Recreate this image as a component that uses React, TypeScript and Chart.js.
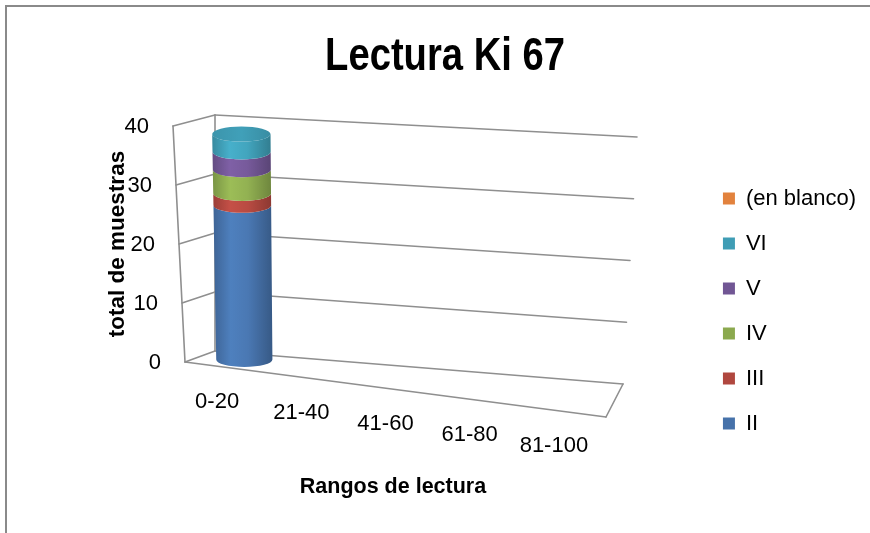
import { useEffect, useRef } from "react";
import { Chart, registerables } from "chart.js";

Chart.register(...registerables);

// ---- data ----
const CATEGORIES = ["0-20", "21-40", "41-60", "61-80", "81-100"];
const SERIES_NAMES = ["II", "III", "IV", "V", "VI", "(en blanco)"];
const SERIES_II = [26, 0, 0, 0, 0];
const SERIES_III = [2, 0, 0, 0, 0];
const SERIES_IV = [4, 0, 0, 0, 0];
const SERIES_V = [3, 0, 0, 0, 0];
const SERIES_VI = [3, 0, 0, 0, 0];
const SERIES_BLANK = [0, 0, 0, 0, 0];
const Y_MIN = 0;
const Y_MAX = 40;
const Y_STEP = 10;

const TITLE = "Lectura Ki 67";
const X_TITLE = "Rangos de lectura";
const Y_TITLE = "total de muestras";

// ---- styles ----
const SERIES_COLORS = ["#4672AA", "#B0473F", "#8BA94E", "#715694", "#3F9DB5", "#E2823D"];
const GRID_COLOR = "#8f8f8f";
const TEXT_COLOR = "#000000";
const FONT_TEXT = "'Liberation Sans', Arial, sans-serif";
const TITLE_CONDENSE = 0.83; // horizontal squeeze of the bold title face

// Perspective box: the front plane and back wall of the plot, as canvas quads.
const FRONT = { tl: { x: 166, y: 119 }, tr: { x: 608, y: 155 }, bl: { x: 178, y: 355 }, br: { x: 599, y: 410 } };
const BACK = { tl: { x: 208, y: 108 }, tr: { x: 630, y: 130 }, bl: { x: 208, y: 344 }, br: { x: 616, y: 377 } };
const BAR_DEPTH = 0.6; // depth position of the cylinders (0 = front, 1 = back)
const CAP_RATIO = 0.26; // ellipse height / width of cylinder caps

type Pt = { x: number; y: number };
type Quad = { tl: Pt; tr: Pt; bl: Pt; br: Pt };

const lerp = (a: Pt, b: Pt, t: number): Pt => ({ x: a.x + (b.x - a.x) * t, y: a.y + (b.y - a.y) * t });
const onQuad = (q: Quad, u: number, v: number): Pt => lerp(lerp(q.bl, q.br, u), lerp(q.tl, q.tr, u), v);
const project = (u: number, v: number, w: number): Pt => lerp(onQuad(FRONT, u, v), onQuad(BACK, u, v), w);

function shade(hex: string, f: number): string {
  const n = parseInt(hex.slice(1), 16);
  const c = [(n >> 16) & 255, (n >> 8) & 255, n & 255].map((x) => Math.max(0, Math.min(255, Math.round(x * f))));
  return `rgb(${c[0]},${c[1]},${c[2]})`;
}

function line(ctx: CanvasRenderingContext2D, a: Pt, b: Pt) {
  ctx.beginPath();
  ctx.moveTo(a.x, a.y);
  ctx.lineTo(b.x, b.y);
  ctx.stroke();
}

function drawCylinderSegment(
  ctx: CanvasRenderingContext2D,
  u: number,
  du: number,
  vb: number,
  vt: number,
  color: string,
  withCap: boolean
) {
  const cb = project(u, vb, BAR_DEPTH);
  const ct = project(u, vt, BAR_DEPTH);
  const rxb = (project(u + du, vb, BAR_DEPTH).x - project(u - du, vb, BAR_DEPTH).x) / 2;
  const rxt = (project(u + du, vt, BAR_DEPTH).x - project(u - du, vt, BAR_DEPTH).x) / 2;
  const ryb = rxb * CAP_RATIO;
  const ryt = rxt * CAP_RATIO;

  const g = ctx.createLinearGradient(ct.x - rxt, 0, ct.x + rxt, 0);
  g.addColorStop(0, shade(color, 0.88));
  g.addColorStop(0.3, shade(color, 1.12));
  g.addColorStop(0.6, shade(color, 1.05));
  g.addColorStop(1, shade(color, 0.8));

  ctx.beginPath();
  ctx.moveTo(ct.x - rxt, ct.y);
  ctx.lineTo(cb.x - rxb, cb.y);
  ctx.ellipse(cb.x, cb.y, rxb, ryb, 0, Math.PI, 0, true);
  ctx.lineTo(ct.x + rxt, ct.y);
  ctx.ellipse(ct.x, ct.y, rxt, ryt, 0, 0, Math.PI, false);
  ctx.closePath();
  ctx.fillStyle = g;
  ctx.fill();

  if (withCap) {
    const gc = ctx.createLinearGradient(ct.x - rxt, 0, ct.x + rxt, 0);
    gc.addColorStop(0, shade(color, 0.95));
    gc.addColorStop(0.5, shade(color, 1.02));
    gc.addColorStop(1, shade(color, 0.9));
    ctx.beginPath();
    ctx.ellipse(ct.x, ct.y, rxt, ryt, 0, 0, Math.PI * 2);
    ctx.fillStyle = gc;
    ctx.fill();
  }
}

const perspectivePlugin = {
  id: "perspectiveCylinders",
  beforeDatasetsDraw(chart: any) {
    const { ctx, chartArea: a, scales } = chart;
    const xs = scales.x;
    const ys = scales.y;
    const toU = (px: number) => (px - a.left) / (a.right - a.left);
    const toV = (py: number) => (a.bottom - py) / (a.bottom - a.top);

    ctx.save();

    // chart title, condensed bold
    ctx.fillStyle = TEXT_COLOR;
    ctx.save();
    ctx.font = `bold 46px ${FONT_TEXT}`;
    ctx.textAlign = "center";
    ctx.textBaseline = "alphabetic";
    ctx.translate(438, 63);
    ctx.scale(TITLE_CONDENSE, 1);
    ctx.fillText(TITLE, 0, 0);
    ctx.restore();

    // walls, floor and gridlines
    ctx.strokeStyle = GRID_COLOR;
    ctx.lineWidth = 1.6;
    ctx.lineCap = "round";
    ys.ticks.forEach((t: any) => {
      const v = toV(ys.getPixelForValue(t.value));
      line(ctx, project(0, v, 0), project(0, v, 1));
      line(ctx, project(0, v, 1), project(1, v, 1));
    });
    line(ctx, project(0, 0, 0), project(0, 1, 0));
    line(ctx, project(0, 0, 1), project(0, 1, 1));
    line(ctx, project(0, 0, 0), project(1, 0, 0));
    line(ctx, project(1, 0, 0), project(1, 0, 1));

    // value axis labels
    ctx.font = `22px ${FONT_TEXT}`;
    ctx.textAlign = "right";
    ctx.textBaseline = "middle";
    ys.ticks.forEach((t: any) => {
      const p = project(0, toV(ys.getPixelForValue(t.value)), 0);
      ctx.fillText(String(t.label), p.x - 24, p.y + 1);
    });

    // category labels
    ctx.textAlign = "center";
    xs.getLabels().forEach((lab: string, i: number) => {
      const p = project(toU(xs.getPixelForValue(i)), 0, 0);
      ctx.fillText(lab, p.x - 10, p.y + 34);
    });

    // axis titles
    ctx.font = `bold 21.5px ${FONT_TEXT}`;
    ctx.fillText(X_TITLE, 386, 480);
    ctx.save();
    ctx.font = `bold 22.5px ${FONT_TEXT}`;
    ctx.translate(111, 237);
    ctx.rotate(-Math.PI / 2);
    ctx.fillText(Y_TITLE, 0, 0);
    ctx.restore();

    // stacked cylinders
    const nCat = xs.getLabels().length;
    for (let i = 0; i < nCat; i++) {
      const segs: { vb: number; vt: number; color: string; u: number; du: number }[] = [];
      chart.data.datasets.forEach((ds: any, di: number) => {
        const el = chart.getDatasetMeta(di).data[i];
        if (!el) return;
        const vb = toV(el.base);
        const vt = toV(el.y);
        if (vt - vb <= 1e-6) return;
        segs.push({
          vb,
          vt,
          color: ds.backgroundColor,
          u: toU(el.x),
          du: el.width / (a.right - a.left) / 2,
        });
      });
      segs.forEach((s, k) => drawCylinderSegment(ctx, s.u, s.du, s.vb, s.vt, s.color, k === segs.length - 1));
    }

    ctx.restore();
    return false;
  },
};

export default function App() {
  const ref = useRef<HTMLCanvasElement>(null);

  useEffect(() => {
    const values = [SERIES_II, SERIES_III, SERIES_IV, SERIES_V, SERIES_VI, SERIES_BLANK];
    const chart = new Chart(ref.current as HTMLCanvasElement, {
      type: "bar",
      data: {
        labels: CATEGORIES,
        datasets: values.map((data, k) => ({
          label: SERIES_NAMES[k],
          data,
          backgroundColor: SERIES_COLORS[k],
          borderWidth: 0,
          barPercentage: 0.85,
          categoryPercentage: 0.8,
        })),
      },
      options: {
        responsive: false,
        animation: false,
        devicePixelRatio: 1,
        layout: { padding: { left: 14, right: 15, top: 72, bottom: 4 } },
        scales: {
          x: { display: false, stacked: true },
          y: { display: false, stacked: true, min: Y_MIN, max: Y_MAX, ticks: { stepSize: Y_STEP } },
        },
        plugins: {
          title: { display: false },
          legend: {
            position: "right",
            reverse: true,
            labels: {
              boxWidth: 12,
              boxHeight: 12,
              padding: 23,
              color: TEXT_COLOR,
              font: { family: FONT_TEXT, size: 22 },
            },
          },
          tooltip: { enabled: false },
        },
      },
      plugins: [perspectivePlugin],
    } as any);
    return () => chart.destroy();
  }, []);

  return (
    <div
      style={{
        position: "fixed",
        left: 5,
        top: 5,
        width: 900,
        height: 560,
        borderLeft: "2px solid #8a8a8a",
        borderTop: "2px solid #8a8a8a",
        background: "#ffffff",
      }}
    >
      <canvas ref={ref} width={874} height={540} style={{ display: "block", width: 874, height: 540 }} />
    </div>
  );
}
